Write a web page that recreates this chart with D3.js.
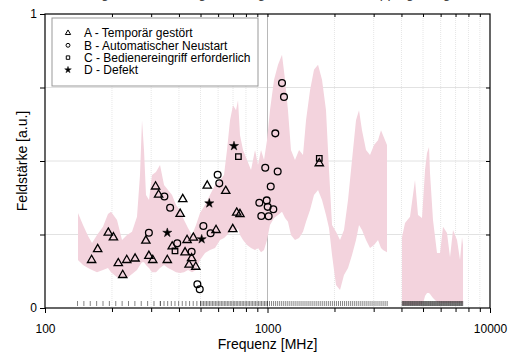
<!DOCTYPE html>
<html>
<head>
<meta charset="utf-8">
<script src="https://cdn.jsdelivr.net/npm/d3@7"></script>
<style>
  body { margin: 0; background: #fff; }
  svg { font-family: "Liberation Sans", Arial, sans-serif; }
</style>
</head>
<body>
<div id="area"></div>
<script>
// --- data (frequency in MHz, field strength in a.u.) ---
var aFreq = [162, 172.5, 192.5, 203, 213.5, 223.5, 233, 254, 284, 293, 305, 314, 324, 354.5, 416, 405, 373, 426, 435, 444, 464, 476, 456, 536, 587, 649, 698, 727, 752, 1709];
var aVal  = [0.163, 0.200, 0.256, 0.240, 0.152, 0.112, 0.163, 0.168, 0.229, 0.177, 0.163, 0.413, 0.385, 0.163, 0.370, 0.320, 0.209, 0.189, 0.231, 0.147, 0.239, 0.140, 0.169, 0.416, 0.265, 0.398, 0.268, 0.324, 0.319, 0.492];

var bFreq = [293, 344, 365, 393, 456, 484, 496, 515, 555, 597, 607, 919, 938, 977, 992, 1002, 1012, 1034, 1062, 1084, 1111, 1162, 1186];
var bVal  = [0.256, 0.379, 0.341, 0.220, 0.191, 0.081, 0.064, 0.279, 0.254, 0.453, 0.424, 0.358, 0.313, 0.477, 0.366, 0.344, 0.312, 0.413, 0.336, 0.594, 0.464, 0.765, 0.718];

var cFreq = [384, 740, 1709];
var cVal  = [0.194, 0.515, 0.509];

var dFreq = [354.5, 506, 547.5, 707];
var dVal  = [0.256, 0.234, 0.356, 0.551];

// envelope of the field mapping, two sweep ranges
var band1Freq = [140.7, 148.2, 156.1, 162.7, 171.3, 182.2, 191.9, 198, 210.7, 221.9, 233.7, 246.1, 259.1, 267.3, 272.9, 278.6, 284.4, 293.4, 302.7, 315.4, 328.8, 342.7, 357.2, 372.3, 388, 404.4, 421.5, 439.3, 457.9, 477.2, 497.4, 523.8, 551.6, 580.9, 611.8, 637.6, 657.7, 678.5, 699.9, 722, 737.1, 752.5, 776.3, 809.1, 843.2, 878.8, 906.5, 935.1, 964.6, 994.8, 1026, 1070, 1115, 1162, 1199, 1236, 1275, 1329, 1386, 1444, 1490, 1553, 1618, 1687, 1758, 1832, 1890, 1950, 2032, 2118, 2207, 2301, 2398, 2499, 2578, 2659, 2772, 2889, 3011, 3138, 3237, 3305, 3444];
var band1High = [0.323, 0.282, 0.245, 0.221, 0.248, 0.276, 0.320, 0.327, 0.299, 0.231, 0.248, 0.259, 0.310, 0.452, 0.639, 0.537, 0.384, 0.367, 0.452, 0.463, 0.486, 0.418, 0.401, 0.384, 0.350, 0.333, 0.299, 0.272, 0.248, 0.282, 0.323, 0.350, 0.384, 0.418, 0.435, 0.452, 0.537, 0.639, 0.690, 0.673, 0.707, 0.588, 0.537, 0.503, 0.469, 0.537, 0.486, 0.537, 0.503, 0.571, 0.673, 0.776, 0.827, 0.861, 0.776, 0.673, 0.537, 0.503, 0.537, 0.520, 0.639, 0.741, 0.810, 0.827, 0.776, 0.673, 0.469, 0.282, 0.259, 0.231, 0.265, 0.367, 0.503, 0.639, 0.673, 0.605, 0.537, 0.520, 0.554, 0.571, 0.605, 0.588, 0.554];
var band1Low  = [0.163, 0.146, 0.136, 0.129, 0.122, 0.129, 0.136, 0.122, 0.105, 0.102, 0.102, 0.116, 0.129, 0.146, 0.156, 0.156, 0.146, 0.136, 0.122, 0.122, 0.136, 0.146, 0.136, 0.129, 0.122, 0.119, 0.122, 0.129, 0.122, 0.129, 0.163, 0.187, 0.197, 0.204, 0.231, 0.238, 0.248, 0.259, 0.265, 0.259, 0.272, 0.248, 0.231, 0.214, 0.204, 0.197, 0.204, 0.190, 0.197, 0.231, 0.282, 0.306, 0.316, 0.327, 0.306, 0.293, 0.248, 0.231, 0.238, 0.259, 0.293, 0.333, 0.384, 0.401, 0.367, 0.316, 0.272, 0.180, 0.078, 0.061, 0.112, 0.136, 0.180, 0.231, 0.282, 0.265, 0.231, 0.204, 0.214, 0.231, 0.204, 0.197, 0.190];

var band2Freq = [4023, 4150, 4370, 4602, 4747, 4948, 5051, 5104, 5211, 5320, 5375, 5544, 5779, 5961, 6149, 6409, 6611, 6819, 7109, 7333, 7486, 7564];
var band2High = [0.241, 0.289, 0.310, 0.435, 0.316, 0.306, 0.412, 0.469, 0.527, 0.548, 0.459, 0.299, 0.187, 0.187, 0.276, 0.255, 0.173, 0.265, 0.231, 0.163, 0.241, 0.214];
var band2Low  = [0.010, 0.010, 0.010, 0.010, 0.010, 0.014, 0.027, 0.041, 0.051, 0.051, 0.048, 0.034, 0.020, 0.017, 0.017, 0.017, 0.017, 0.017, 0.017, 0.017, 0.017, 0.010];

// measurement sweeps: [start MHz, stop MHz, number of points]
var sweeps = [[140, 330, 14], [330, 500, 12], [500, 1000, 46], [1000, 3450, 60], [4030, 7540, 95]];

var xTickLabels = [100, 1000, 10000];
var yTickLabels = [0, 1];
var yGrid = [0.25, 0.5, 0.75];

var legendLabels = ["A - Temporär gestört", "B - Automatischer Neustart", "C - Bedienereingriff erforderlich", "D - Defekt"];

// --- layout ---
var width = 509, height = 355;
var pL = 45, pR = 490, pT = 14, pB = 308;

var svg = d3.select('#area').append('svg')
            .attr('width', width)
            .attr('height', height);

var x = d3.scaleLog().domain([100, 10000]).range([pL, pR]);
var y = d3.scaleLinear().domain([0, 1]).range([pB, pT]);

// cut-off title at the top edge
svg.append('text')
   .attr('x', width / 2 + 10).attr('y', -2)
   .attr('text-anchor', 'middle')
   .attr('font-size', 14).attr('fill', '#444')
   .text('Störfestigkeit der Prüflinge im Vergleich zum Feld-Mapping, Vergleich');

// grid
var minors = [];
[100, 1000].forEach(function(d) {
  for (var k = 2; k <= 9; k++) minors.push(d * k);
});
svg.append('g').selectAll('line').data(minors).enter().append('line')
   .attr('x1', d => x(d)).attr('x2', d => x(d))
   .attr('y1', pT).attr('y2', pB)
   .attr('stroke', '#e0e0e0').attr('stroke-width', 0.8)
   .attr('stroke-dasharray', '1,1');
svg.append('g').selectAll('line').data(yGrid).enter().append('line')
   .attr('x1', pL).attr('x2', pR)
   .attr('y1', d => y(d)).attr('y2', d => y(d))
   .attr('stroke', '#e2e2e2').attr('stroke-width', 1);
svg.append('line')
   .attr('x1', x(1000)).attr('x2', x(1000))
   .attr('y1', pT).attr('y2', pB)
   .attr('stroke', '#b8b8b8').attr('stroke-width', 1);

// envelope
var area = d3.area()
             .x(d => x(d.f))
             .y0(d => y(d.lo))
             .y1(d => y(d.hi));
function bandRows(fs, hs, ls) {
  return fs.map(function(f, i) { return {f: f, hi: hs[i], lo: ls[i]}; });
}
[bandRows(band1Freq, band1High, band1Low), bandRows(band2Freq, band2High, band2Low)].forEach(function(rows) {
  svg.append('path').datum(rows)
     .attr('d', area)
     .attr('fill', '#f3d3dd');
});

// rug of measured frequencies
var rug = [];
sweeps.forEach(function(s) {
  var a = Math.log10(s[0]), b = Math.log10(s[1]);
  d3.range(s[2]).forEach(function(i) {
    rug.push(Math.pow(10, a + (b - a) * i / (s[2] - 1)));
  });
});
svg.append('g').selectAll('line').data(rug).enter().append('line')
   .attr('x1', d => x(d)).attr('x2', d => x(d))
   .attr('y1', y(0) - 7).attr('y2', y(0) - 2)
   .attr('stroke', '#333').attr('stroke-width', 0.6);

// axes
var xAxis = d3.axisBottom(x).tickValues(xTickLabels).tickFormat(d3.format('d')).tickSize(5);
svg.append('g').attr('transform', 'translate(0,' + pB + ')').call(xAxis)
   .call(g => g.select('.domain').remove())
   .call(g => g.selectAll('text').attr('font-size', 12).attr('dy', '1.4em').attr('font-family', 'Liberation Sans, Arial'));
svg.append('g').attr('transform', 'translate(0,' + pB + ')')
   .call(d3.axisBottom(x).tickValues(minors).tickFormat('').tickSize(4))
   .call(g => g.select('.domain').remove());
svg.append('g').attr('transform', 'translate(0,' + pT + ')')
   .call(d3.axisBottom(x).tickValues(minors.concat([1000])).tickFormat('').tickSize(3))
   .call(g => g.select('.domain').remove());

var yAxis = d3.axisLeft(y).tickValues([0, 0.25, 0.5, 0.75, 1]).tickFormat(d => (d === 0 || d === 1) ? d : '').tickSize(5);
svg.append('g').attr('transform', 'translate(' + pL + ',0)').call(yAxis)
   .call(g => g.select('.domain').remove())
   .call(g => g.selectAll('text').attr('font-size', 12).attr('font-family', 'Liberation Sans, Arial'));
svg.append('g').attr('transform', 'translate(' + pR + ',0)')
   .call(d3.axisLeft(y).tickValues([0.25, 0.5, 0.75]).tickFormat('').tickSize(4))
   .call(g => g.select('.domain').remove());

svg.append('rect')
   .attr('x', pL).attr('y', pT)
   .attr('width', pR - pL).attr('height', pB - pT)
   .attr('fill', 'none').attr('stroke', '#000').attr('stroke-width', 1.2);

// axis titles
svg.append('text')
   .attr('x', (pL + pR) / 2).attr('y', 349)
   .attr('text-anchor', 'middle').attr('font-size', 14)
   .text('Frequenz [MHz]');
svg.append('text')
   .attr('transform', 'translate(27,' + ((pT + pB) / 2) + ') rotate(-90)')
   .attr('text-anchor', 'middle').attr('font-size', 14)
   .text('Feldstärke [a.u.]');

// markers
var shapes = [d3.symbolTriangle, d3.symbolCircle, d3.symbolSquare, d3.symbolStar];
var sizes = [30, 36, 30, 26];
var series = [[aFreq, aVal], [bFreq, bVal], [cFreq, cVal], [dFreq, dVal]];

series.forEach(function(s, k) {
  var pts = s[0].map(function(f, i) { return [f, s[1][i]]; });
  svg.append('g').selectAll('path').data(pts).enter().append('path')
     .attr('transform', d => 'translate(' + x(d[0]) + ',' + y(d[1]) + ')')
     .attr('d', d3.symbol().type(shapes[k]).size(sizes[k]))
     .attr('fill', k === 3 ? '#000' : 'none')
     .attr('stroke', '#000').attr('stroke-width', k === 3 ? 0.5 : 1.3);
});

// legend
var lg = svg.append('g');
lg.append('rect')
  .attr('x', 52).attr('y', 18).attr('width', 206).attr('height', 68)
  .attr('fill', '#fff').attr('stroke', '#999').attr('stroke-width', 1);
legendLabels.forEach(function(t, k) {
  var yy = 33 + k * 12.3;
  lg.append('path')
    .attr('transform', 'translate(68,' + yy + ')')
    .attr('d', d3.symbol().type(shapes[k]).size(k === 3 ? 14 : 12))
    .attr('fill', k === 3 ? '#000' : 'none')
    .attr('stroke', '#000').attr('stroke-width', k === 3 ? 0.4 : 1);
  lg.append('text')
    .attr('x', 84).attr('y', yy + 4.3)
    .attr('font-size', 12)
    .text(t);
});
</script>
</body>
</html>
